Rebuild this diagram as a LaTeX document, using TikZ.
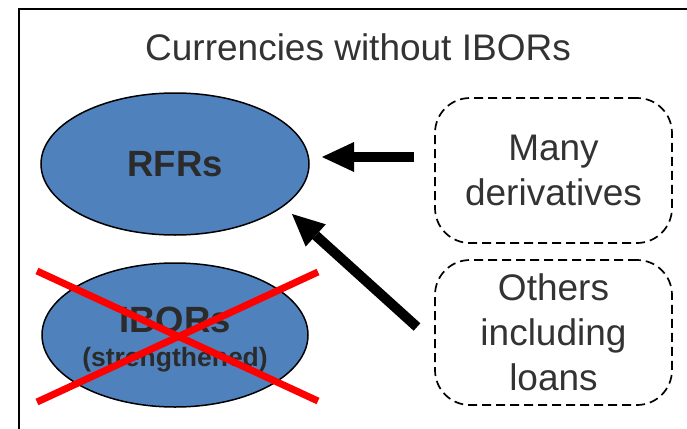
\documentclass[tikz,border=0pt]{standalone}
\usepackage{fontspec}
\setmainfont{Liberation Sans}
\usetikzlibrary{shapes.geometric,arrows.meta}
\definecolor{ellfill}{HTML}{4F81BD}
\definecolor{txtgray}{HTML}{333333}
\definecolor{boldgray}{HTML}{2B2B2B}
\definecolor{crossred}{HTML}{FF0000}
\begin{document}
\begin{tikzpicture}[x=1pt,y=-1pt,
  plaintext/.style={text=txtgray,inner sep=0pt,font=\fontsize{37}{45}\selectfont},
  blob/.style={ellipse,draw=black,line width=1.5pt,fill=ellfill,inner sep=0pt,
    text=boldgray,font=\fontsize{36.5}{44}\selectfont\bfseries},
  blobtext/.style={text=boldgray,inner sep=0pt},
  dbox/.style={draw=black,line width=1.7pt,dash pattern=on 9pt off 5pt,
    rounded corners=35pt,minimum width=237pt,minimum height=145pt,inner sep=0pt,
    align=center,text=txtgray,font=\fontsize{37}{45}\selectfont},
  bigarrow/.style={line width=10pt,draw=black,
    -{Triangle[length=32pt,width=30pt,line width=0pt]}},
  crossline/.style={draw=crossred,line width=7pt}]
\useasboundingbox (0,0) rectangle (687,428);
\clip (0,0) rectangle (687,428);

% outer frame (runs past the right and bottom edges)
\draw[line width=2pt] (19,9) rectangle (700,440);

% heading
\node[plaintext,anchor=base] (title) at (358,60) {Currencies without IBORs};

% rate ellipses
\node[blob,minimum width=268pt,minimum height=142pt] (rfr) at (175,164) {RFRs};
\node[blob,minimum width=266pt,minimum height=144pt] (ibor) at (175,335) {};
\node[blobtext,anchor=base,font=\fontsize{36.5}{44}\selectfont\bfseries] (iborlbl) at (175,332) {IBORs};
\node[blobtext,anchor=base,font=\fontsize{26.5}{32}\selectfont\bfseries] (strlbl) at (175,366) {(strengthened)};

% red cross over the IBOR ellipse
\coordinate (c1a) at (37,271);
\coordinate (c1b) at (318,401);
\coordinate (c2a) at (37,402);
\coordinate (c2b) at (318,272);
\draw[crossline] (c1a) -- (c1b);
\draw[crossline] (c2a) -- (c2b);

% dashed product boxes
\node[dbox] (deriv) at (553.5,170.5) {Many\\derivatives};
\node[dbox] (loans) at (553.5,332.5) {Others\\including\\loans};

% arrows towards RFRs
\coordinate (a1tail) at (414,157);
\coordinate (a1tip) at (322,157);
\coordinate (a2tail) at (417,327);
\coordinate (a2tip) at (292,214);
\draw[bigarrow] (a1tail) -- (a1tip);
\draw[bigarrow] (a2tail) -- (a2tip);
\end{tikzpicture}
\end{document}
